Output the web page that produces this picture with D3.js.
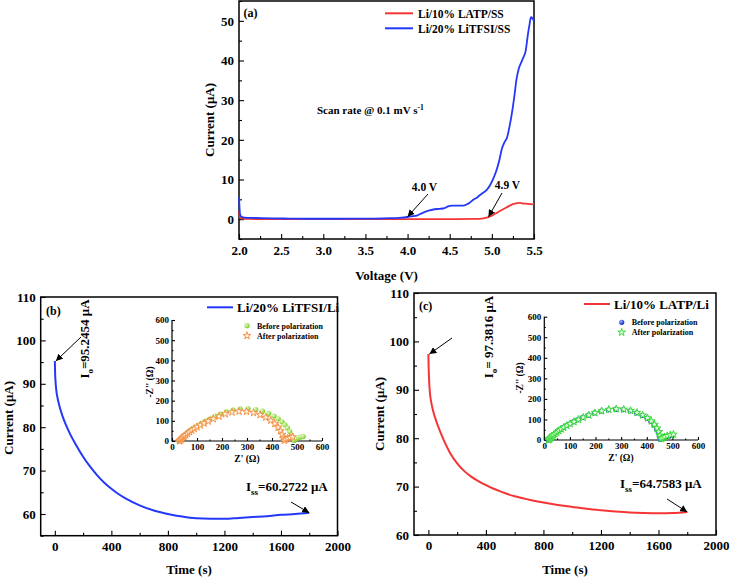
<!DOCTYPE html>
<html><head><meta charset="utf-8">
<script src="https://cdn.jsdelivr.net/npm/d3@7"></script>
<style>
body{margin:0;background:#fff}
svg{display:block}
text{font-family:"Liberation Serif","Times New Roman",serif;font-weight:bold;fill:#000}
</style>
</head><body>
<svg id="chart" width="730" height="578"></svg>
<script>
// ---------------- DATA ----------------
// (a) LSV
const lsvVoltageBlue = [2.0,2.005,2.01,2.02,2.04,2.07,2.1,2.2,2.4,2.6,2.8,3.0,3.2,3.4,3.6,3.8,3.9,4.0,4.05,4.11,4.18,4.26,4.32,4.38,4.44,4.48,4.53,4.58,4.66,4.7,4.74,4.78,4.82,4.86,4.9,4.94,4.98,5.01,5.05,5.09,5.12,5.15,5.18,5.21,5.25,5.27,5.29,5.32,5.35,5.37,5.40,5.43,5.45,5.46,5.47,5.48,5.49,5.5];
const lsvCurrentBlue = [5.5,3.5,1.5,0.8,0.5,0.4,0.35,0.3,0.2,0.15,0.1,0.1,0.1,0.12,0.15,0.25,0.35,0.55,0.7,0.9,1.6,2.2,2.5,2.6,2.8,3.2,3.4,3.4,3.4,3.7,4.2,4.9,5.4,6.1,6.7,7.4,8.6,9.9,12,15,17.8,19.4,20.6,23.4,28.4,31.5,35,38,39.6,40.6,42.3,46.9,49.5,50.7,50.9,50.6,50.4,49.9];
const lsvVoltageRed = [2.0,2.005,2.01,2.03,2.06,2.1,2.3,2.6,3.0,3.5,4.0,4.5,4.8,4.9,4.95,5.0,5.05,5.1,5.15,5.2,5.25,5.3,5.33,5.36,5.4,5.45,5.5];
const lsvCurrentRed = [2.0,1.0,0.5,0.2,0.1,0.05,0,0,0,0,0,0,0.05,0.2,0.45,0.9,1.5,2.1,2.7,3.3,3.8,4.05,4.1,4.0,3.9,3.8,3.75];
const lsvXTicks = [2.0,2.5,3.0,3.5,4.0,4.5,5.0,5.5];
const lsvYTicks = [0,10,20,30,40,50];

// (b) chronoamperometry Li/20% LiTFSI/Li
const timeB = [0,2,5,10,20,35,55,80,110,150,200,250,300,350,400,450,500,600,700,800,900,1000,1100,1200,1300,1400,1500,1600,1700,1800];
const currentB = [95.25,92.5,90.5,88.6,86.6,84.6,82.5,80.4,78.3,75.9,73.2,70.9,68.9,67.2,65.8,64.6,63.6,62.0,60.8,60.0,59.4,59.0,58.9,58.9,59.1,59.3,59.5,59.8,60.0,60.27];
// (c) chronoamperometry Li/10% LATP/Li
const timeC = [0,2,5,10,20,35,55,80,110,150,200,250,300,350,400,450,500,600,700,800,900,1000,1100,1200,1300,1400,1500,1600,1700,1800];
const currentC = [97.38,94.5,92,89.6,87.4,85.4,83.5,81.5,79.4,77.0,74.8,73.2,72.0,71.1,70.3,69.6,69.0,68.0,67.3,66.7,66.2,65.8,65.4,65.1,64.85,64.65,64.55,64.5,64.55,64.76];
const timeTicks = [0,400,800,1200,1600,2000];
const currentTicksB = [60,70,80,90,100,110];
const currentTicksC = [60,70,80,90,100,110];

// insets: EIS [Z', -Z'']
const eisBBefore = [[28,0],[31,4],[34,8],[37,12],[40,16],[44,21],[48,26],[53,31],[58,37],[64,43],[71,50],[79,57],[88,65],[98,73],[110,82],[123,91],[138,101],[155,112],[173,123],[193,135],[217,146],[244,155],[272,160],[304,161],[335,156],[362,148],[387,137],[408,124],[425,110],[440,95],[452,80],[462,64],[471,47],[478,30],[484,14],[489,3],[497,10],[506,16],[515,20],[525,22]];
const eisBAfter = [[30,0],[33,4],[36,8],[40,13],[44,18],[49,24],[55,30],[62,37],[70,45],[79,53],[89,61],[100,69],[113,78],[128,88],[145,98],[165,110],[188,122],[213,134],[240,143],[268,147],[298,146],[326,140],[352,130],[375,117],[395,102],[411,86],[424,68],[434,50],[441,32],[446,15],[449,3],[455,8],[463,13],[472,17],[482,20]];
const eisCBefore = [[15,0],[18,4],[21,8],[25,13],[29,18],[34,24],[40,30],[47,37],[55,45],[64,53],[74,61],[86,70],[99,79],[114,89],[131,99],[150,110],[172,121],[196,132],[222,141],[250,147],[279,150],[308,148],[335,142],[360,132],[382,120],[401,106],[416,90],[428,72],[438,54],[445,36],[449,18],[452,4],[458,8],[467,13],[477,17],[488,20],[500,23]];
const eisCAfter = [[17,0],[20,4],[23,8],[27,13],[31,18],[36,24],[42,30],[49,37],[57,45],[66,53],[76,61],[88,70],[101,79],[116,89],[133,99],[152,110],[174,121],[198,132],[224,141],[252,148],[281,151],[310,149],[337,143],[362,133],[384,121],[403,107],[418,92],[430,75],[440,57],[447,40],[452,22],[456,6],[462,10],[470,15],[480,20],[492,24],[504,27]];
const eisTicks = [0,100,200,300,400,500,600];

// ---------------- DRAW ----------------
const FONT = "'Liberation Serif','Times New Roman',serif";
const BLUE = "#2338f8", RED = "#f53535";
const svg = d3.select("#chart");
const defs = svg.append("defs");
defs.append("marker").attr("id","arrow").attr("viewBox","0 0 10 10").attr("refX",10).attr("refY",5)
  .attr("markerWidth",7).attr("markerHeight",7).attr("orient","auto").attr("markerUnits","userSpaceOnUse")
  .append("path").attr("d","M0,0L10,5L0,10z").attr("fill","#000");
function grad(id, c0, c1){
  const g = defs.append("radialGradient").attr("id",id).attr("cx","35%").attr("cy","35%").attr("r","65%");
  g.append("stop").attr("offset","0%").attr("stop-color",c0);
  g.append("stop").attr("offset","100%").attr("stop-color",c1);
}
grad("gGreen","#eaffc8","#7ccc2a");
grad("gBlue","#9fb0ff","#1028c8");

function styleAxis(a, fs){
  a.attr("font-family",FONT).attr("font-size",fs).attr("font-weight","bold");
  a.select(".domain").remove();
  a.selectAll("line").attr("stroke","#000").attr("stroke-width",1.1);
}
function axes(g, x, y, o){
  const [x0,x1] = x.range(), [y0,y1] = y.range();
  const xa = g.append("g").attr("transform",`translate(0,${y0})`)
    .call(d3.axisBottom(x).tickValues(o.xMajor).tickSize(-o.tl).tickPadding(o.xp).tickFormat(o.xf));
  styleAxis(xa, o.fs);
  const xm = g.append("g").attr("transform",`translate(0,${y0})`)
    .call(d3.axisBottom(x).tickValues(o.xMinor).tickSize(-o.ml).tickFormat(""));
  styleAxis(xm, o.fs);
  const ya = g.append("g").attr("transform",`translate(${x0},0)`)
    .call(d3.axisLeft(y).tickValues(o.yMajor).tickSize(-o.tl).tickPadding(o.yp).tickFormat(o.yf));
  styleAxis(ya, o.fs);
  const ym = g.append("g").attr("transform",`translate(${x0},0)`)
    .call(d3.axisLeft(y).tickValues(o.yMinor).tickSize(-o.ml).tickFormat(""));
  styleAxis(ym, o.fs);
  if (o.box) {
    g.append("rect").attr("x",x0).attr("y",y1).attr("width",x1-x0).attr("height",y0-y1)
      .attr("fill","none").attr("stroke","#000").attr("stroke-width",1.5);
  } else {
    g.append("path").attr("d",`M${x0},${y1}V${y0}H${x1}`).attr("fill","none").attr("stroke","#000").attr("stroke-width",1.2);
  }
}
function text(g, x, y, s, fs, anchor){
  return g.append("text").attr("x",x).attr("y",y).attr("font-size",fs).attr("text-anchor",anchor||"start").text(s);
}
function vtext(g, cx, cy, s, fs){
  return g.append("text").attr("transform",`translate(${cx},${cy}) rotate(-90)`).attr("font-size",fs)
    .attr("text-anchor","middle").attr("dy","0.35em").text(s);
}
function arrow(g, x1,y1,x2,y2){
  g.append("line").attr("x1",x1).attr("y1",y1).attr("x2",x2).attr("y2",y2)
    .attr("stroke","#000").attr("stroke-width",1).attr("marker-end","url(#arrow)");
}
const range = (a,b,s)=>d3.range(a,b+s/2,s);

// ---- Panel (a)
const ga = svg.append("g");
const ax = d3.scaleLinear().domain([2.0,5.5]).range([239,534]);
const ay = d3.scaleLinear().domain([-5,55]).range([239,1]);
axes(ga, ax, ay, {xMajor:lsvXTicks, xMinor:range(2.25,5.25,0.5), yMajor:lsvYTicks, yMinor:[-5,5,15,25,35,45,55],
  tl:5, ml:3, xp:7, yp:5, fs:13, xf:d3.format(".1f"), yf:d3.format("d"), box:true});
const lineA = (X,Y)=>d3.line().x((d,i)=>ax(X[i])).y((d,i)=>ay(Y[i])).curve(d3.curveMonotoneX)(X);
ga.append("path").attr("d",lineA(lsvVoltageRed,lsvCurrentRed)).attr("fill","none").attr("stroke",RED).attr("stroke-width",1.8);
ga.append("path").attr("d",lineA(lsvVoltageBlue,lsvCurrentBlue)).attr("fill","none").attr("stroke",BLUE).attr("stroke-width",1.8);
vtext(ga, 209, 120, "Current (μA)", 13);
text(ga, 386.5, 280, "Voltage (V)", 13, "middle");
text(ga, 243.5, 17, "(a)", 12);
ga.append("line").attr("x1",385).attr("x2",413).attr("y1",13.3).attr("y2",13.3).attr("stroke",RED).attr("stroke-width",2);
text(ga, 418, 17.5, "Li/10% LATP/SS", 11.5);
ga.append("line").attr("x1",385).attr("x2",413).attr("y1",28.3).attr("y2",28.3).attr("stroke",BLUE).attr("stroke-width",2);
text(ga, 418, 32.5, "Li/20% LiTFSI/SS", 11.5);
const sr = text(ga, 317, 114, "Scan rate @ 0.1 mV s", 11);
sr.append("tspan").attr("dy",-4).attr("font-size",7.5).text("-1");
text(ga, 424.5, 191, "4.0 V", 11.5, "middle");
arrow(ga, 428, 194, ax(4.0), ay(0.6));
text(ga, 507.5, 189, "4.9 V", 11.5, "middle");
arrow(ga, 502, 193, ax(4.96), ay(0.6));

// ---- Panel (b)
const gb = svg.append("g");
const bx = d3.scaleLinear().domain([-100,2000]).range([40.7,337.5]);
const by = d3.scaleLinear().domain([55,110]).range([535.7,297]);
axes(gb, bx, by, {xMajor:timeTicks, xMinor:range(200,1800,400), yMajor:currentTicksB, yMinor:range(55,105,10),
  tl:5, ml:3, xp:6, yp:5, fs:13, xf:d3.format("d"), yf:d3.format("d"), box:true});
gb.append("path").attr("d", d3.line().x((d,i)=>bx(timeB[i])).y((d,i)=>by(currentB[i])).curve(d3.curveMonotoneX)(timeB))
  .attr("fill","none").attr("stroke",BLUE).attr("stroke-width",2);
vtext(gb, 8, 418, "Current (μA)", 13);
text(gb, 189, 574, "Time (s)", 13, "middle");
text(gb, 46, 315, "(b)", 12);
gb.append("line").attr("x1",207).attr("x2",233).attr("y1",307.3).attr("y2",307.3).attr("stroke",BLUE).attr("stroke-width",2);
text(gb, 237, 312, "Li/20% LiTFSI/Li", 13);
{
  const t = gb.append("text").attr("transform","translate(89,339) rotate(-90)").attr("font-size",13).attr("text-anchor","middle");
  t.append("tspan").text("I");
  t.append("tspan").attr("dy",4).attr("font-size",9).text("o");
  t.append("tspan").attr("dy",-4).text("=95.2454 μA");
}
arrow(gb, 81, 337, bx(0)+1, by(95.25));
{
  const t = gb.append("text").attr("x",246).attr("y",491).attr("font-size",13);
  t.append("tspan").text("I");
  t.append("tspan").attr("dy",4).attr("font-size",9).text("ss");
  t.append("tspan").attr("dy",-4).text("=60.2722 μA");
}
arrow(gb, 291, 502, bx(1800), by(60.27));

// ---- Panel (c)
const gc = svg.append("g");
const cx = d3.scaleLinear().domain([-100,2000]).range([414,716]);
const cy = d3.scaleLinear().domain([60,110]).range([535,293]);
axes(gc, cx, cy, {xMajor:timeTicks, xMinor:range(200,1800,400), yMajor:currentTicksC, yMinor:range(65,105,10),
  tl:5, ml:3, xp:6, yp:5, fs:13, xf:d3.format("d"), yf:d3.format("d"), box:true});
gc.append("path").attr("d", d3.line().x((d,i)=>cx(timeC[i])).y((d,i)=>cy(currentC[i])).curve(d3.curveMonotoneX)(timeC))
  .attr("fill","none").attr("stroke",RED).attr("stroke-width",2);
vtext(gc, 379, 414, "Current (μA)", 13);
text(gc, 565, 574, "Time (s)", 13, "middle");
text(gc, 419, 309.5, "(c)", 12);
gc.append("line").attr("x1",584).attr("x2",610).attr("y1",304).attr("y2",304).attr("stroke",RED).attr("stroke-width",2);
text(gc, 614, 308.5, "Li/10% LATP/Li", 13);
{
  const t = gc.append("text").attr("transform","translate(493,337) rotate(-90)").attr("font-size",13).attr("text-anchor","middle");
  t.append("tspan").text("I");
  t.append("tspan").attr("dy",4).attr("font-size",9).text("o");
  t.append("tspan").attr("dy",-4).text("= 97.3816 μA");
}
arrow(gc, 452, 338, cx(0)+1, cy(97.38));
{
  const t = gc.append("text").attr("x",620).attr("y",488).attr("font-size",13);
  t.append("tspan").text("I");
  t.append("tspan").attr("dy",4).attr("font-size",9).text("ss");
  t.append("tspan").attr("dy",-4).text("=64.7583 μA");
}
arrow(gc, 667, 499, cx(1800), cy(64.76));

// ---- insets
function inset(g, x, y, before, after, circFill, starStroke, starFill, lx, ly){
  axes(g, x, y, {xMajor:eisTicks, xMinor:range(50,550,100), yMajor:eisTicks, yMinor:range(50,550,100),
    tl:3, ml:1.5, xp:3, yp:3, fs:9, xf:d3.format("d"), yf:d3.format("d"), box:false});
  const star = d3.symbol(d3.symbolStar).size(18);
  g.append("g").selectAll("circle").data(before).join("circle")
    .attr("cx",d=>x(d[0])).attr("cy",d=>y(d[1])).attr("r",2.6).attr("fill",circFill);
  g.append("g").selectAll("path").data(after).join("path")
    .attr("transform",d=>`translate(${x(d[0])},${y(d[1])})`).attr("d",star)
    .attr("fill",starFill).attr("stroke",starStroke).attr("stroke-width",0.9);
  g.append("circle").attr("cx",lx).attr("cy",ly).attr("r",2.6).attr("fill",circFill);
  text(g, lx+10, ly+3, "Before polarization", 8);
  g.append("path").attr("transform",`translate(${lx},${ly+10})`).attr("d",star)
    .attr("fill",starFill).attr("stroke",starStroke).attr("stroke-width",0.9);
  text(g, lx+10, ly+13, "After polarization", 8);
}
const ibx = d3.scaleLinear().domain([0,600]).range([172,322]);
const iby = d3.scaleLinear().domain([0,600]).range([441,320]);
inset(gb, ibx, iby, eisBBefore, eisBAfter, "url(#gGreen)", "#f28a3a", "#fff2e4", 247, 325.7);
vtext(gb, 150, 382, "-Z'' (Ω)", 9.5);
text(gb, 247, 462, "Z' (Ω)", 9.5, "middle");

const icx = d3.scaleLinear().domain([0,600]).range([544.3,698]);
const icy = d3.scaleLinear().domain([0,600]).range([440,316.7]);
inset(gc, icx, icy, eisCBefore, eisCAfter, "url(#gBlue)", "#2ed82e", "#e4ffe0", 621.7, 322.3);
vtext(gc, 520, 378, "-Z'' (Ω)", 9.5);
text(gc, 621, 461, "Z' (Ω)", 9.5, "middle");
</script>
</body></html>
